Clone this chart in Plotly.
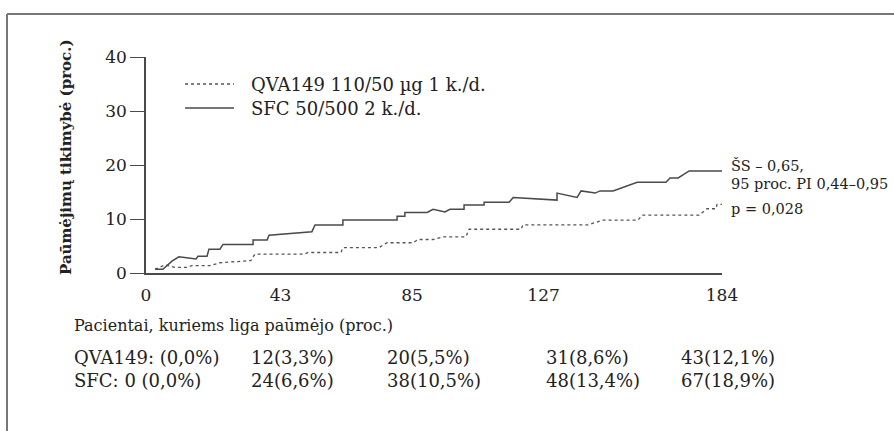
import plotly.graph_objects as go

# ---- data ----
sfc_days = [2.9, 5.4, 8.3, 10.5, 16.0, 16.6, 19.5, 20.1, 23.6, 24.6, 34.2, 34.2, 38.7, 39.3, 53.0, 54.0,
            62.9, 62.9, 80.2, 80.2, 82.7, 82.7, 89.8, 91.7, 95.5, 97.1, 101.6, 101.6, 108.0, 108.0, 116.0,
            117.3, 131.3, 131.3, 137.7, 139.0, 143.5, 145.0, 149.2, 156.9, 166.1, 167.4, 170.0, 173.5, 184.0]
sfc_pct = [0.7, 0.7, 2.2, 3.0, 2.6, 3.1, 3.1, 4.4, 4.4, 5.3, 5.3, 6.1, 6.1, 7.0, 7.65, 8.9,
           8.9, 9.8, 9.8, 10.5, 10.5, 11.2, 11.2, 11.8, 11.3, 11.8, 11.8, 12.6, 12.6, 13.1, 13.1,
           14.0, 13.5, 14.8, 14.0, 15.2, 14.8, 15.2, 15.2, 16.8, 16.8, 17.6, 17.6, 18.9, 18.9]

qva_days = [2.9, 6.1, 9.3, 13.1, 14.7, 20.4, 23.6, 31.0, 33.5, 34.8, 50.5, 51.8, 62.3, 62.9, 74.4, 77.0,
            85.3, 86.9, 91.7, 94.9, 102.2, 103.2, 119.8, 120.4, 141.2, 146.0, 157.2, 158.5, 176.7, 179.2,
            182.1, 182.4, 184.0]
qva_pct = [0.7, 1.5, 1.05, 1.05, 1.35, 1.35, 1.9, 2.3, 2.3, 3.5, 3.5, 3.8, 3.8, 4.7, 4.7, 5.6,
           5.6, 6.2, 6.2, 6.7, 6.7, 8.1, 8.1, 8.9, 8.9, 9.8, 9.8, 10.7, 10.7, 11.9,
           11.9, 12.7, 12.7]

x_ticks = [0, 43, 85, 127, 184]
y_ticks = [0, 10, 20, 30, 40]

series_names = ["QVA149 110/50 µg 1 k./d.", "SFC 50/500 2 k./d."]
stats_text = ["ŠS – 0,65,", "95 proc. PI 0,44–0,95", "p = 0,028"]

table_title = "Pacientai, kuriems liga paūmėjo (proc.)"
qva_row = ["QVA149: (0,0%)", "12(3,3%)", "20(5,5%)", "31(8,6%)", "43(12,1%)"]
sfc_row = ["SFC: 0 (0,0%)", "24(6,6%)", "38(10,5%)", "48(13,4%)", "67(18,9%)"]

y_title = "Paūmėjimų tikimybė (proc.)"

# ---- figure ----
W, H = 894, 431
L, R, T, B = 146, 172, 57, 158
PW, PH = W - L - R, H - T - B


def px(x):
    return (x - L) / PW


def py(y):
    return (H - B - y) / PH


FONT = "DejaVu Serif"
TXT = "#222222"
LINE = "#4a4a4a"

fig = go.Figure()
fig.add_trace(go.Scatter(x=qva_days, y=qva_pct, mode="lines", name=series_names[0],
                         line=dict(color="#555555", width=1.3, dash="dot"), showlegend=False))
fig.add_trace(go.Scatter(x=sfc_days, y=sfc_pct, mode="lines", name=series_names[1],
                         line=dict(color=LINE, width=1.5), showlegend=False))

fig.update_layout(
    width=W, height=H,
    margin=dict(l=L, r=R, t=T, b=B),
    paper_bgcolor="white", plot_bgcolor="white",
    font=dict(family=FONT, color=TXT, size=16),
    xaxis=dict(range=[0, 184], tickvals=x_ticks, ticktext=[str(v) for v in x_ticks],
               showgrid=False, zeroline=False, showline=True, linecolor=LINE, linewidth=1.5,
               ticks="", ticklabelstandoff=6, tickfont=dict(size=17, family=FONT, color=TXT)),
    yaxis=dict(range=[0, 40], tickvals=y_ticks, showgrid=False, zeroline=False,
               showline=True, linecolor=LINE, linewidth=1.5, ticks="outside", ticklen=14,
               tickcolor=LINE, tickwidth=1.3, tickfont=dict(size=17, family=FONT, color=TXT)),
)

shapes = []
# frame (top and left edges)
shapes.append(dict(type="line", xref="paper", yref="paper", x0=px(7), x1=px(894), y0=py(14), y1=py(14),
                   line=dict(color="#777777", width=2)))
shapes.append(dict(type="line", xref="paper", yref="paper", x0=px(7), x1=px(7), y0=py(14), y1=py(431),
                   line=dict(color="#777777", width=2)))
# legend keys
shapes.append(dict(type="line", xref="paper", yref="paper", x0=px(185), x1=px(234), y0=py(84), y1=py(84),
                   line=dict(color="#555555", width=1.3, dash="dot")))
shapes.append(dict(type="line", xref="paper", yref="paper", x0=px(185), x1=px(234), y0=py(108), y1=py(108),
                   line=dict(color=LINE, width=1.5)))
fig.update_layout(shapes=shapes)

ann = []
for name, yy in zip(series_names, [84, 108]):
    ann.append(dict(text=name, xref="paper", yref="paper", x=px(249), y=py(yy), xanchor="left",
                    yanchor="middle", showarrow=False, font=dict(size=18, family=FONT, color=TXT)))
for t, yy in zip(stats_text, [165, 184, 209]):
    ann.append(dict(text=t, xref="paper", yref="paper", x=px(729), y=py(yy), xanchor="left",
                    yanchor="middle", showarrow=False, font=dict(size=14.5, family=FONT, color=TXT)))
ann.append(dict(text="<b>" + y_title + "</b>", xref="paper", yref="paper", x=px(66), y=py(157),
                xanchor="center", yanchor="middle", textangle=-90, showarrow=False,
                font=dict(size=15, family=FONT, color=TXT)))
ann.append(dict(text=table_title, xref="paper", yref="paper", x=px(72), y=py(325), xanchor="left",
                yanchor="middle", showarrow=False, font=dict(size=16, family=FONT, color=TXT)))
cols = [72, 249, 385, 544, 679]
for row, yy in zip([qva_row, sfc_row], [357, 380]):
    for t, xx in zip(row, cols):
        ann.append(dict(text=t, xref="paper", yref="paper", x=px(xx), y=py(yy), xanchor="left",
                        yanchor="middle", showarrow=False, font=dict(size=18, family=FONT, color=TXT)))
fig.update_layout(annotations=ann)

fig.write_html("out.html", config={"displayModeBar": False},
               post_script="document.body.style.margin='0';document.body.style.overflow='hidden';")
